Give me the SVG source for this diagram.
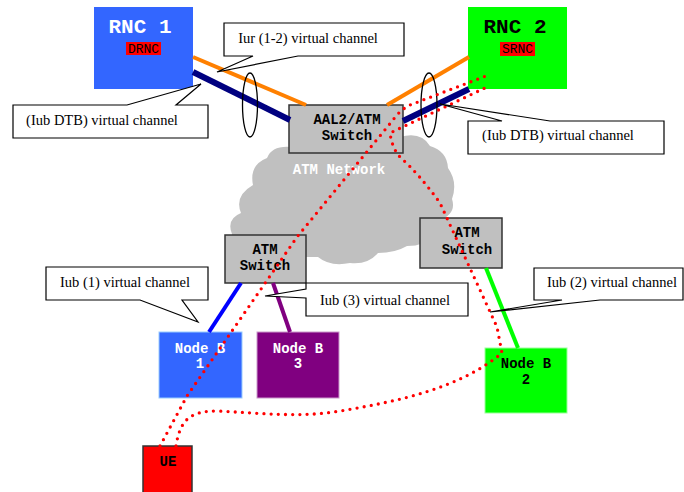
<svg xmlns="http://www.w3.org/2000/svg" width="684" height="492" viewBox="0 0 684 492">
<style>
.box{stroke:#333;stroke-width:1.5}
.nb{stroke:#9cf;stroke-width:1}
.lbl{font-family:"Liberation Mono","DejaVu Sans Mono",monospace;font-weight:bold;font-size:14px;text-anchor:middle}
.tag{font-family:"Liberation Mono","DejaVu Sans Mono",monospace;font-size:13px;text-anchor:middle;fill:#000}
.call{fill:#fff;stroke:#000;stroke-width:1.2}
.ct{font-family:"Liberation Serif","Times New Roman",serif;font-size:14.5px;text-anchor:middle;fill:#000}
.dot{fill:none;stroke:#f00;stroke-width:3.3;stroke-linecap:round;stroke-dasharray:0 7.2}
.ell{fill:none;stroke:#000;stroke-width:1.3}
</style>
<rect width="684" height="492" fill="#fff"/>
<g id="cloud">
<path fill="#c0c0c0" d="M232,234 Q226,219 241,213 Q234,196 253,185 Q249,165 267,158 Q272,145 292,147 L400,137 Q421,131 430,146 Q447,151 448,168 Q458,182 452,199 Q457,214 438,221 L428,236 Q426,246 407,246 Q395,253 378,253 Q368,265 350,263 Q330,267 318,257 L300,257 L232,242 Z"/>
<text class="lbl" x="339" y="174" fill="#fff">ATM Network</text>
</g>
<g id="rnc1">
<rect x="94" y="7" width="99" height="82" fill="#3366ff"/>
<text class="lbl" x="140" y="33" fill="#fff" style="font-size:21px">RNC 1</text>
<rect x="126" y="42" width="35" height="13" fill="#f00"/>
<text class="tag" x="143.5" y="53">DRNC</text>
</g>
<g id="rnc2">
<rect x="468" y="7" width="99" height="82" fill="#00ff00"/>
<text class="lbl" x="515" y="33" fill="#000" style="font-size:21px">RNC 2</text>
<rect x="500" y="42" width="35" height="14" fill="#f00"/>
<text class="tag" x="517.5" y="53">SRNC</text>
</g>
<g id="aal2-switch">
<rect class="box" x="289" y="105" width="114" height="48" fill="#c0c0c0"/>
<text class="lbl" x="347" y="124" fill="#000">AAL2/ATM</text>
<text class="lbl" x="347" y="140" fill="#000">Switch</text>
</g>
<g id="atm-switch-left">
<rect class="box" x="225" y="235" width="81" height="48" fill="#c0c0c0"/>
<text class="lbl" x="265" y="254" fill="#000">ATM</text>
<text class="lbl" x="265" y="270" fill="#000">Switch</text>
</g>
<g id="atm-switch-right">
<rect class="box" x="420" y="218" width="82" height="50" fill="#c0c0c0"/>
<text class="lbl" x="467" y="237" fill="#000">ATM</text>
<text class="lbl" x="467" y="254" fill="#000">Switch</text>
</g>
<g id="nodeb1">
<rect class="nb" x="159" y="332" width="83" height="66" fill="#3366ff"/>
<text class="lbl" x="200" y="353" fill="#fff">Node B</text>
<text class="lbl" x="200" y="368" fill="#fff">1</text>
</g>
<g id="nodeb3">
<rect class="nb" x="257" y="332" width="82" height="66" fill="#800080" style="stroke:#c9c"/>
<text class="lbl" x="298" y="353" fill="#fff">Node B</text>
<text class="lbl" x="298" y="368" fill="#fff">3</text>
</g>
<g id="nodeb2">
<rect class="nb" x="485" y="348" width="82" height="65" fill="#00ff00" style="stroke:#9f9"/>
<text class="lbl" x="526" y="368" fill="#000">Node B</text>
<text class="lbl" x="526" y="384" fill="#000">2</text>
</g>
<g id="ue">
<rect class="box" x="143" y="446" width="49" height="50" fill="#f00"/>
<text class="lbl" x="168" y="466" fill="#000">UE</text>
</g>
<g id="connectors">
<line x1="193" y1="57" x2="306" y2="105" stroke="#ff8000" stroke-width="4"/>
<line x1="193" y1="72" x2="290" y2="120" stroke="#000080" stroke-width="6"/>
<line x1="387" y1="105" x2="469" y2="57" stroke="#ff8000" stroke-width="4"/>
<line x1="403" y1="121" x2="469" y2="89" stroke="#000080" stroke-width="6"/>
<line x1="241" y1="283" x2="209" y2="332" stroke="#0000ff" stroke-width="4"/>
<line x1="273" y1="283" x2="290" y2="332" stroke="#800080" stroke-width="4"/>
<line x1="486" y1="268" x2="518" y2="348" stroke="#00ff00" stroke-width="4"/>
<ellipse class="ell" cx="250" cy="105" rx="7.5" ry="32"/>
<ellipse class="ell" cx="429" cy="105" rx="8" ry="32"/>
<path class="dot" d="M160,446 L187,396 L297,237 L393,120 Q400,110 410,105 L486,76"/>
<path class="dot" d="M176,446 C180,420 190,411 217,411 C260,413 300,418 340,411 C400,401 460,388 502,353 L497,327 L440,203 Q420,175 400,157 Q392,148 390,133 L485,88"/>
</g>
<g id="callout-iur">
<path class="call" d="M224,23 L404,23 L404,56 L298,56 L217,72 L253,56 L224,56 Z"/>
<text class="ct" x="308" y="43">Iur (1-2) virtual channel</text>
</g>
<g id="callout-dtb-left">
<path class="call" d="M13,105 L127,105 L201,84 L176,105 L208,105 L208,138 L13,138 Z"/>
<text class="ct" x="102" y="125">(Iub DTB) virtual channel</text>
</g>
<g id="callout-dtb-right">
<path class="call" d="M468,121 L502,121 L440,104 L550,121 L664,121 L664,154 L468,154 Z"/>
<text class="ct" x="558" y="140">(Iub DTB) virtual channel</text>
</g>
<g id="callout-iub1">
<path class="call" d="M46,267 L208,267 L208,300 L182,300 L198,322 L140,300 L46,300 Z"/>
<text class="ct" x="125" y="287">Iub (1) virtual channel</text>
</g>
<g id="callout-iub3">
<path class="call" d="M306,283 L468,283 L468,316 L306,316 L306,298 L265,296 L306,289 Z"/>
<text class="ct" x="385" y="305">Iub (3) virtual channel</text>
</g>
<g id="callout-iub2">
<path class="call" d="M534,268 L683,268 L683,300 L600,300 L490,312 L562,300 L534,300 Z"/>
<text class="ct" x="612" y="287">Iub (2) virtual channel</text>
</g>
</svg>
